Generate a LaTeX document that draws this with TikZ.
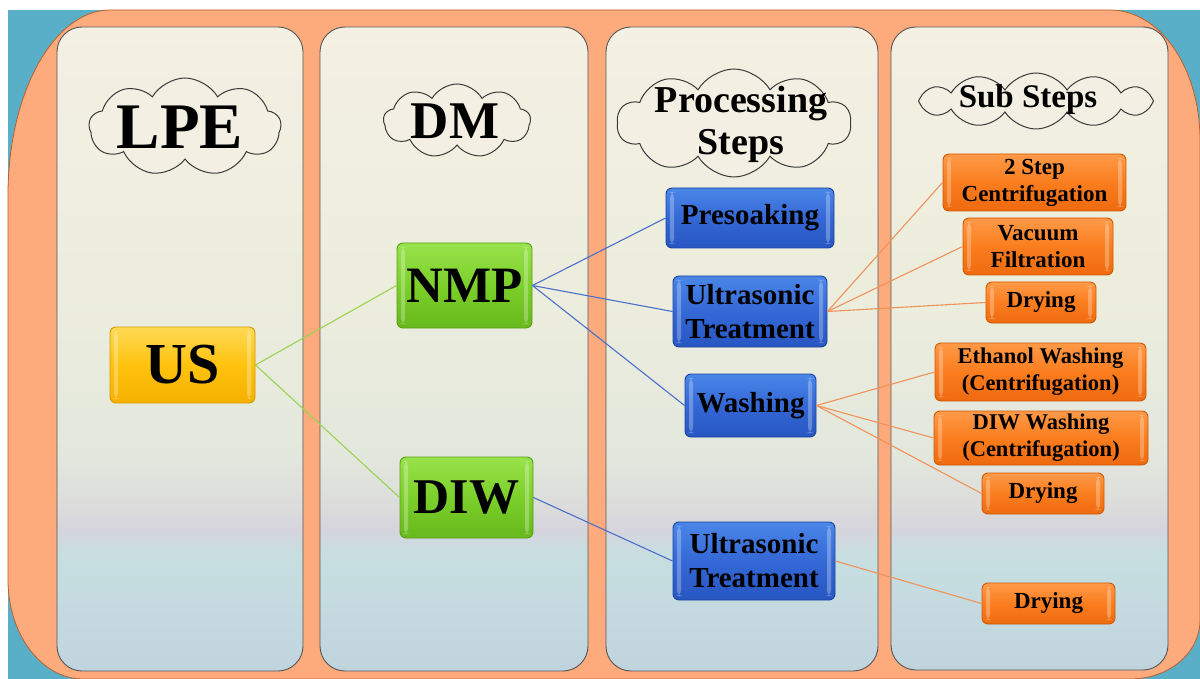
\documentclass[tikz,border=0pt]{standalone}
\usepackage{fontspec}
\setmainfont{Liberation Serif}
\usetikzlibrary{shapes.symbols}

% background and panel colours
\definecolor{bgblue}{HTML}{5AAFC8}
\definecolor{bgorange}{HTML}{FDAB7C}
\definecolor{bgedge}{HTML}{B8602E}
\definecolor{panelline}{HTML}{555555}
\definecolor{pT}{HTML}{F4F0E3}
\definecolor{pF}{HTML}{ECEDDD}
\definecolor{pE}{HTML}{E3E8DD}
\definecolor{pG}{HTML}{DCDDDB}
\definecolor{pD}{HTML}{D6D5DC}
\definecolor{pC}{HTML}{C7DFE1}
\definecolor{pB}{HTML}{C0D4DE}
\definecolor{cloudfill}{HTML}{F3EFE2}
\definecolor{cloudline}{HTML}{3A3A3A}
% box colours
\definecolor{ytop}{HTML}{FFDA55}\definecolor{ymid}{HTML}{FFC20E}\definecolor{ybot}{HTML}{F5B000}\definecolor{ybord}{HTML}{D49A00}
\definecolor{gtop}{HTML}{98E24C}\definecolor{gmid}{HTML}{7CD02A}\definecolor{gbot}{HTML}{66B81C}\definecolor{gbord}{HTML}{5A9E18}
\definecolor{btop}{HTML}{4A86E8}\definecolor{bmid}{HTML}{3468D6}\definecolor{bbot}{HTML}{2756C2}\definecolor{bbord}{HTML}{1C449E}
\definecolor{otop}{HTML}{FF9A48}\definecolor{omid}{HTML}{FA7D1E}\definecolor{obot}{HTML}{EE6A0E}\definecolor{obord}{HTML}{CF5A06}
% connector colours
\definecolor{lgreen}{HTML}{9CD34E}
\definecolor{lblue}{HTML}{4A70CC}
\definecolor{lorange}{HTML}{F0925A}

\pgfdeclareverticalshading{panelshade}{100bp}{%
  color(0bp)=(pB); color(25bp)=(pB); color(34bp)=(pC); color(36bp)=(pD);
  color(38bp)=(pG); color(42bp)=(pE); color(54bp)=(pF); color(75bp)=(pT);
  color(100bp)=(pT)}

\tikzset{
  panel/.style={draw=panelline, line width=0.9pt, rounded corners=25pt, shading=panelshade},
  cloudbox/.style={cloud, cloud puff arc=120, aspect=2,
    draw=cloudline, fill=cloudfill, line width=1pt, inner sep=0pt},
  title/.style={align=center, inner sep=0pt, font=\bfseries},
  % glossy edge strips inside each box
  gloss/.style={path picture={
      \fill[white, opacity=0.28]
        ([xshift=4pt, yshift=4pt]path picture bounding box.south west)
        rectangle ([xshift=8pt, yshift=-4pt]path picture bounding box.north west);
      \fill[white, opacity=0.28]
        ([xshift=-8pt, yshift=4pt]path picture bounding box.south east)
        rectangle ([xshift=-4pt, yshift=-4pt]path picture bounding box.north east);}},
  box/.style={rounded corners=6pt, align=center, inner sep=1pt, line width=0.9pt, font=\bfseries, gloss},
  ybox/.style={box, draw=ybord, top color=ytop, bottom color=ybot, middle color=ymid},
  gbox/.style={box, draw=gbord, top color=gtop, bottom color=gbot, middle color=gmid},
  bbox/.style={box, draw=bbord, top color=btop, bottom color=bbot, middle color=bmid},
  obox/.style={box, draw=obord, top color=otop, bottom color=obot, middle color=omid},
  fs/.style 2 args={font=\bfseries\fontsize{#1}{#2}\selectfont},
  gline/.style={draw=lgreen, line width=1.1pt},
  bline/.style={draw=lblue, line width=1.1pt},
  oline/.style={draw=lorange, line width=1.1pt},
}

\begin{document}
\begin{tikzpicture}[x=1pt, y=-1pt]
\useasboundingbox (0,0) rectangle (1200,679);
\fill[white] (0,0) rectangle (1200,679);
\fill[bgblue] (8,10) rectangle (1200,679);

% rounded orange frame
\path[fill=bgorange, draw=bgedge, line width=0.8pt]
  (8,195) .. controls (8,93) and (54,10) .. (110,10)
  -- (1110,10) .. controls (1160,10) and (1200,68) .. (1200,140)
  -- (1200,620) .. controls (1200,653) and (1169,679) .. (1130,679)
  -- (83,679) .. controls (42,679) and (8,635) .. (8,580) -- cycle;

% column panels
\path[panel] (57,27) rectangle (303,671);
\path[panel] (320,27) rectangle (588,671);
\path[panel] (606,27) rectangle (878,671);
\path[panel] (891,27) rectangle (1168,670);

% column headings in clouds
\node[cloudbox, cloud puffs=9, minimum width=192pt, minimum height=98pt] (c1) at (185,127) {};
\node[title, fs={65}{70}] (t1) at (180,127) {LPE};
\node[cloudbox, cloud puffs=9, minimum width=147pt, minimum height=74pt] (c2) at (457,121) {};
\node[title, fs={53}{58}] (t2) at (455,121) {DM};
\node[cloudbox, cloud puffs=10, aspect=2.2, minimum width=234pt, minimum height=108pt] (c3) at (734,123) {};
\node[title, fs={38}{42}] (t3) at (741,124) {Processing\\Steps};
\node[cloudbox, cloud puffs=12, aspect=4.2, cloud puff arc=115, minimum width=235pt, minimum height=56pt] (c4) at (1036,101) {};
\node[title, fs={33}{36}] (t4) at (1028,100) {Sub Steps};

% tree nodes
\node[ybox, fs={58}{60}, minimum width=145pt, minimum height=76pt] (us) at (182.5,365) {US};
\node[gbox, fs={51}{54}, minimum width=135pt, minimum height=85pt] (nmp) at (464.5,285.5) {NMP};
\node[gbox, fs={50}{53}, minimum width=133pt, minimum height=81pt] (diw) at (466.5,497.5) {DIW};

\node[bbox, fs={29}{33}, minimum width=168pt, minimum height=60pt] (pre) at (750,218) {Presoaking};
\node[bbox, fs={29}{34}, minimum width=154pt, minimum height=71pt] (ut1) at (750,311.5) {Ultrasonic\\Treatment};
\node[bbox, fs={29}{33}, minimum width=131pt, minimum height=63pt] (wash) at (750.5,405.5) {Washing};
\node[bbox, fs={29}{34}, minimum width=162pt, minimum height=78pt] (ut2) at (754,561) {Ultrasonic\\Treatment};

\node[obox, fs={23}{27}, minimum width=183pt, minimum height=57pt] (cen) at (1034.5,182.5) {2 Step\\Centrifugation};
\node[obox, fs={23}{27}, minimum width=150pt, minimum height=57pt] (vac) at (1038,246.5) {Vacuum\\Filtration};
\node[obox, fs={23}{26}, minimum width=110pt, minimum height=41pt] (dry1) at (1041,302.5) {Drying};
\node[obox, fs={22.5}{27}, minimum width=211pt, minimum height=58pt] (eth) at (1040.5,372) {Ethanol Washing\\(Centrifugation)};
\node[obox, fs={22.5}{27}, minimum width=214pt, minimum height=54pt] (diww) at (1041,438) {DIW Washing\\(Centrifugation)};
\node[obox, fs={23}{26}, minimum width=122pt, minimum height=41pt] (dry2) at (1043,493.5) {Drying};
\node[obox, fs={23}{26}, minimum width=133pt, minimum height=41pt] (dry3) at (1048.5,603.5) {Drying};

% connectors
\path[gline] (us.east) -- (nmp.west);
\path[gline] (us.east) -- (diw.west);
\path[bline] (nmp.east) -- (pre.west);
\path[bline] (nmp.east) -- (ut1.west);
\path[bline] (nmp.east) -- (wash.west);
\path[bline] (diw.east) -- (ut2.west);
\path[oline] (ut1.east) -- (cen.west);
\path[oline] (ut1.east) -- (vac.west);
\path[oline] (ut1.east) -- (dry1.west);
\path[oline] (wash.east) -- (eth.west);
\path[oline] (wash.east) -- (diww.west);
\path[oline] (wash.east) -- (dry2.west);
\path[oline] (ut2.east) -- (dry3.west);
\end{tikzpicture}
\end{document}
